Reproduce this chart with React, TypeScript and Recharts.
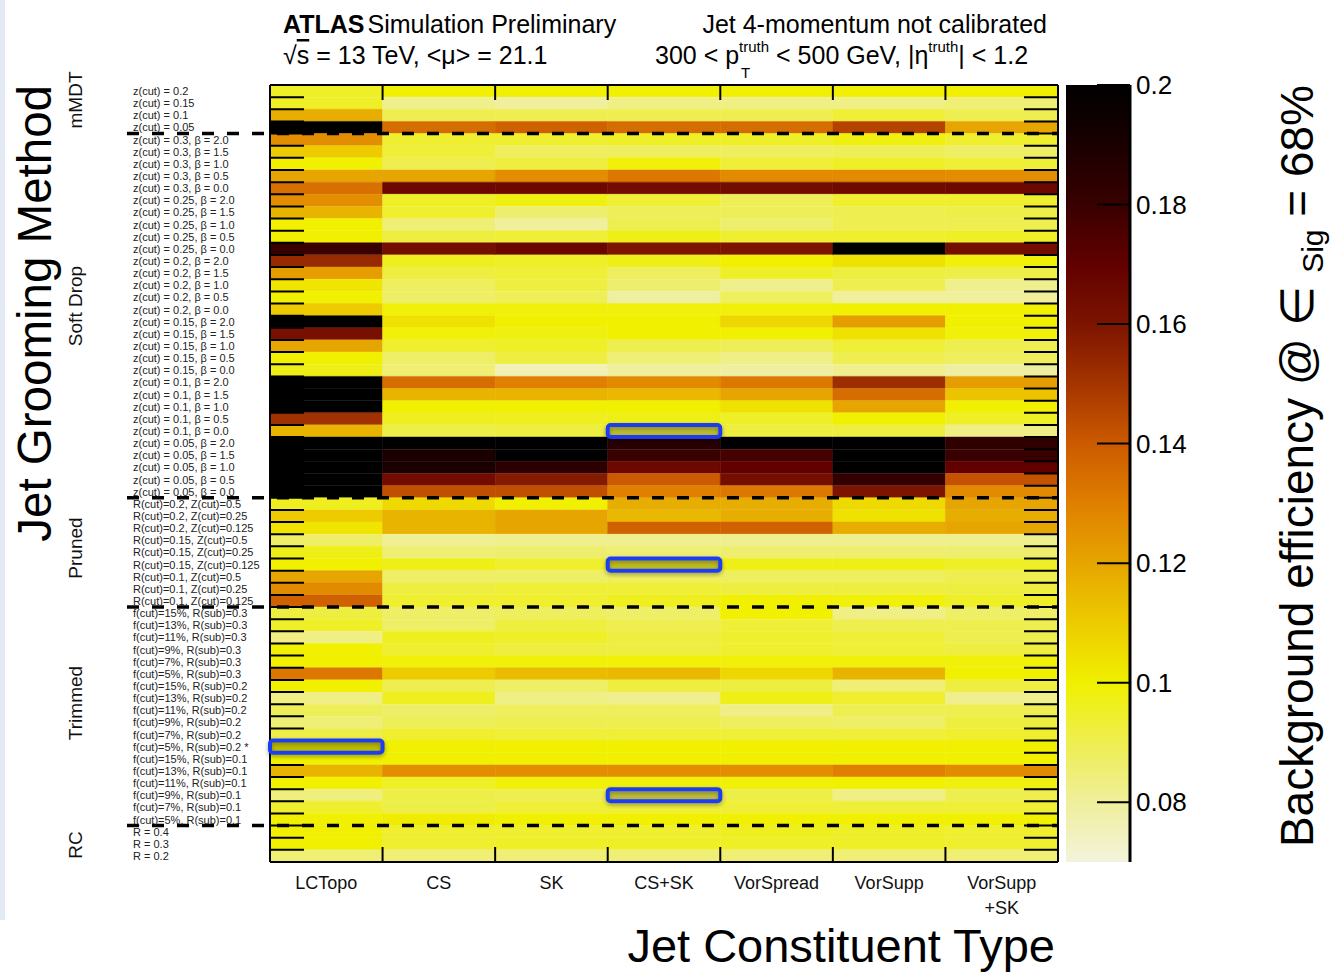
import React from 'react';
import { BarChart, Bar, Cell, XAxis, YAxis, ReferenceLine } from 'recharts';

const FONT = '"Liberation Sans", Arial, Helvetica, sans-serif';

// jet constituent types (columns)
const constituents = ['LCTopo', 'CS', 'SK', 'CS+SK', 'VorSpread', 'VorSupp', 'VorSupp\n+SK'];

// grooming configurations (rows, top to bottom)
const groomers = [
  'z(cut) = 0.2', 'z(cut) = 0.15', 'z(cut) = 0.1', 'z(cut) = 0.05',
  'z(cut) = 0.3, β = 2.0', 'z(cut) = 0.3, β = 1.5', 'z(cut) = 0.3, β = 1.0', 'z(cut) = 0.3, β = 0.5', 'z(cut) = 0.3, β = 0.0',
  'z(cut) = 0.25,  β = 2.0', 'z(cut) = 0.25,  β = 1.5', 'z(cut) = 0.25,  β = 1.0', 'z(cut) = 0.25,  β = 0.5', 'z(cut) = 0.25,  β = 0.0',
  'z(cut) = 0.2, β = 2.0', 'z(cut) = 0.2, β = 1.5', 'z(cut) = 0.2, β = 1.0', 'z(cut) = 0.2, β = 0.5', 'z(cut) = 0.2, β = 0.0',
  'z(cut) = 0.15,  β = 2.0', 'z(cut) = 0.15,  β = 1.5', 'z(cut) = 0.15,  β = 1.0', 'z(cut) = 0.15,  β = 0.5', 'z(cut) = 0.15,  β = 0.0',
  'z(cut) = 0.1, β = 2.0', 'z(cut) = 0.1, β = 1.5', 'z(cut) = 0.1, β = 1.0', 'z(cut) = 0.1, β = 0.5', 'z(cut) = 0.1, β = 0.0',
  'z(cut) = 0.05,  β = 2.0', 'z(cut) = 0.05,  β = 1.5', 'z(cut) = 0.05,  β = 1.0', 'z(cut) = 0.05,  β = 0.5', 'z(cut) = 0.05,  β = 0.0',
  'R(cut)=0.2, Z(cut)=0.5', 'R(cut)=0.2, Z(cut)=0.25', 'R(cut)=0.2, Z(cut)=0.125',
  'R(cut)=0.15, Z(cut)=0.5', 'R(cut)=0.15, Z(cut)=0.25', 'R(cut)=0.15, Z(cut)=0.125',
  'R(cut)=0.1, Z(cut)=0.5', 'R(cut)=0.1, Z(cut)=0.25', 'R(cut)=0.1, Z(cut)=0.125',
  'f(cut)=15%, R(sub)=0.3', 'f(cut)=13%, R(sub)=0.3', 'f(cut)=11%, R(sub)=0.3', 'f(cut)=9%, R(sub)=0.3', 'f(cut)=7%, R(sub)=0.3', 'f(cut)=5%, R(sub)=0.3',
  'f(cut)=15%, R(sub)=0.2', 'f(cut)=13%, R(sub)=0.2', 'f(cut)=11%, R(sub)=0.2', 'f(cut)=9%, R(sub)=0.2', 'f(cut)=7%, R(sub)=0.2', 'f(cut)=5%, R(sub)=0.2 *',
  'f(cut)=15%, R(sub)=0.1', 'f(cut)=13%, R(sub)=0.1', 'f(cut)=11%, R(sub)=0.1', 'f(cut)=9%, R(sub)=0.1', 'f(cut)=7%, R(sub)=0.1', 'f(cut)=5%, R(sub)=0.1',
  'R = 0.4', 'R = 0.3', 'R = 0.2',
];

const groupNames = ['mMDT', 'Soft Drop', 'Pruned', 'Trimmed', 'RC'];
const groupSizes = [4, 30, 9, 18, 3];

// background efficiency @ 68% signal efficiency, one value per groomer row
const lcTopo = [
  0.095, 0.095, 0.118, 0.205,
  0.126, 0.110, 0.100, 0.120, 0.134,
  0.126, 0.116, 0.100, 0.100, 0.180,
  0.153, 0.122, 0.103, 0.100, 0.110,
  0.205, 0.162, 0.120, 0.100, 0.097,
  0.205, 0.205, 0.205, 0.151, 0.116,
  0.205, 0.205, 0.205, 0.205, 0.205,
  0.096, 0.110, 0.103, 0.087, 0.097, 0.100, 0.120, 0.127, 0.138,
  0.092, 0.095, 0.083, 0.100, 0.100, 0.132,
  0.100, 0.083, 0.089, 0.085, 0.091, 0.100,
  0.100, 0.116, 0.100, 0.084, 0.094, 0.100,
  0.100, 0.100, 0.085,
];
const cs = [
  0.100, 0.082, 0.090, 0.135,
  0.094, 0.093, 0.090, 0.120, 0.166,
  0.095, 0.094, 0.085, 0.092, 0.163,
  0.096, 0.092, 0.088, 0.087, 0.099,
  0.104, 0.099, 0.094, 0.087, 0.085,
  0.135, 0.116, 0.100, 0.096, 0.091,
  0.200, 0.190, 0.190, 0.164, 0.143,
  0.106, 0.116, 0.116, 0.081, 0.085, 0.097, 0.087, 0.092, 0.094,
  0.087, 0.087, 0.096, 0.094, 0.099, 0.110,
  0.090, 0.096, 0.087, 0.089, 0.094, 0.100,
  0.100, 0.126, 0.095, 0.091, 0.091, 0.101,
  0.094, 0.094, 0.085,
];
const sk = [
  0.100, 0.080, 0.090, 0.138,
  0.094, 0.088, 0.092, 0.126, 0.166,
  0.098, 0.086, 0.080, 0.093, 0.167,
  0.095, 0.093, 0.092, 0.089, 0.099,
  0.100, 0.098, 0.095, 0.092, 0.076,
  0.130, 0.116, 0.100, 0.096, 0.092,
  0.200, 0.200, 0.184, 0.158, 0.143,
  0.100, 0.120, 0.120, 0.082, 0.086, 0.094, 0.087, 0.093, 0.094,
  0.088, 0.092, 0.095, 0.092, 0.099, 0.114,
  0.087, 0.083, 0.088, 0.090, 0.093, 0.100,
  0.100, 0.126, 0.099, 0.090, 0.093, 0.100,
  0.094, 0.095, 0.085,
];
const csSk = [
  0.100, 0.083, 0.090, 0.135,
  0.095, 0.088, 0.099, 0.132, 0.164,
  0.093, 0.089, 0.090, 0.097, 0.160,
  0.097, 0.088, 0.086, 0.079, 0.099,
  0.100, 0.100, 0.090, 0.085, 0.080,
  0.127, 0.115, 0.100, 0.097, 0.092,
  0.185, 0.180, 0.166, 0.140, 0.130,
  0.118, 0.115, 0.138, 0.082, 0.085, 0.095, 0.088, 0.093, 0.096,
  0.087, 0.090, 0.092, 0.092, 0.099, 0.115,
  0.092, 0.082, 0.088, 0.090, 0.093, 0.100,
  0.100, 0.126, 0.099, 0.090, 0.093, 0.100,
  0.094, 0.095, 0.085,
];
const vorSpread = [
  0.100, 0.083, 0.090, 0.135,
  0.095, 0.088, 0.093, 0.127, 0.164,
  0.089, 0.089, 0.086, 0.094, 0.160,
  0.100, 0.095, 0.082, 0.088, 0.099,
  0.107, 0.100, 0.089, 0.083, 0.079,
  0.132, 0.120, 0.104, 0.095, 0.092,
  0.200, 0.177, 0.170, 0.163, 0.132,
  0.118, 0.118, 0.138, 0.082, 0.086, 0.097, 0.088, 0.092, 0.100,
  0.100, 0.093, 0.094, 0.094, 0.099, 0.107,
  0.092, 0.097, 0.083, 0.088, 0.093, 0.100,
  0.100, 0.126, 0.099, 0.091, 0.093, 0.100,
  0.096, 0.095, 0.085,
];
const vorSupp = [
  0.100, 0.083, 0.093, 0.146,
  0.098, 0.089, 0.095, 0.127, 0.165,
  0.094, 0.090, 0.090, 0.094, 0.205,
  0.104, 0.092, 0.090, 0.080, 0.100,
  0.122, 0.104, 0.093, 0.090, 0.082,
  0.152, 0.135, 0.120, 0.100, 0.092,
  0.205, 0.205, 0.205, 0.182, 0.160,
  0.106, 0.104, 0.118, 0.082, 0.086, 0.097, 0.088, 0.092, 0.099,
  0.083, 0.090, 0.093, 0.093, 0.099, 0.116,
  0.085, 0.094, 0.090, 0.087, 0.093, 0.100,
  0.100, 0.130, 0.100, 0.083, 0.093, 0.100,
  0.095, 0.095, 0.085,
];
const vorSuppSk = [
  0.100, 0.085, 0.090, 0.120,
  0.094, 0.087, 0.093, 0.126, 0.166,
  0.094, 0.091, 0.090, 0.095, 0.163,
  0.099, 0.091, 0.082, 0.080, 0.100,
  0.100, 0.099, 0.090, 0.088, 0.079,
  0.122, 0.112, 0.100, 0.095, 0.083,
  0.183, 0.180, 0.170, 0.142, 0.127,
  0.120, 0.118, 0.120, 0.082, 0.086, 0.095, 0.090, 0.092, 0.095,
  0.087, 0.090, 0.090, 0.092, 0.099, 0.100,
  0.092, 0.082, 0.090, 0.092, 0.094, 0.100,
  0.100, 0.127, 0.098, 0.090, 0.093, 0.100,
  0.094, 0.094, 0.085,
];
const effByType = [lcTopo, cs, sk, csSk, vorSpread, vorSupp, vorSuppSk];

// cells outlined in blue
const highlighted = [
  ['CS+SK', 'z(cut) = 0.1, β = 0.0'],
  ['CS+SK', 'R(cut)=0.15, Z(cut)=0.125'],
  ['LCTopo', 'f(cut)=5%, R(sub)=0.2 *'],
  ['CS+SK', 'f(cut)=9%, R(sub)=0.1'],
];

const zMin = 0.07;
const zMax = 0.2;
const zTicks = [0.08, 0.1, 0.12, 0.14, 0.16, 0.18, 0.2];

const palette: [number, string][] = [
  [0.07, '#f3f3dc'], [0.08, '#efef9c'], [0.09, '#eeee50'], [0.1, '#f0f000'],
  [0.11, '#edcb00'], [0.12, '#e6a500'], [0.13, '#e07f00'], [0.14, '#cc5a00'],
  [0.15, '#a43400'], [0.16, '#7c1400'], [0.17, '#620000'], [0.18, '#380000'],
  [0.19, '#1a0000'], [0.2, '#000000'],
];

const hex = (h: string) => [1, 3, 5].map((k) => parseInt(h.slice(k, k + 2), 16));
function colorOf(v: number) {
  const z = Math.max(zMin, Math.min(zMax, v));
  for (let i = 0; i < palette.length - 1; i++) {
    const [a, ca] = palette[i];
    const [b, cb] = palette[i + 1];
    if (z <= b) {
      const t = (z - a) / (b - a);
      const A = hex(ca), B = hex(cb);
      const c = A.map((x, k) => Math.round(x + (B[k] - x) * t));
      return `rgb(${c[0]},${c[1]},${c[2]})`;
    }
  }
  return '#000';
}

const rows = groomers.map((label, i) => {
  const d: Record<string, any> = { label };
  effByType.forEach((arr, j) => {
    d['c' + j] = 1;
    d['v' + j] = arr[i];
  });
  return d;
});

const colCenters = constituents.map((_, i) => i + 0.5);
const groupStarts = groupSizes.slice(1).map((_, i) => groupSizes.slice(0, i + 1).reduce((s, n) => s + n, 0));

const PLOT_TOP = 85;
const PLOT_BOTTOM = 862;
const ROW_H = (PLOT_BOTTOM - PLOT_TOP) / groomers.length;
const LABEL_X = 133;
const groupLabelY = [100, 306, 548, 703, 845];

const RowTick = (props: any) => (
  <text x={LABEL_X} y={props.y} dy={4} fontSize={11} fontFamily={FONT} fill="#222">
    {props.payload.value}
  </text>
);

const ColTick = (props: any) => {
  const { x, payload } = props;
  const lines = constituents[Math.floor(payload.value)].split('\n');
  return (
    <text x={x} y={PLOT_BOTTOM + 27} textAnchor="middle" fontSize={18} fontFamily={FONT} fill="#111">
      {lines.map((l, k) => (
        <tspan key={k} x={x} dy={k ? 25 : 0}>{l}</tspan>
      ))}
    </text>
  );
};

// short ticks at a row boundary, on both sides of the frame
const RowEdgeTicks = (p: any) => {
  const l = Math.min(p.x1, p.x2), r = Math.max(p.x1, p.x2);
  return (
    <g stroke="#000" strokeWidth={2}>
      <line x1={l} y1={p.y1} x2={l + 34} y2={p.y1} />
      <line x1={r - 34} y1={p.y1} x2={r} y2={p.y1} />
    </g>
  );
};

// short ticks at a column boundary, top and bottom
const ColEdgeTicks = (p: any) => {
  const t = Math.min(p.y1, p.y2), b = Math.max(p.y1, p.y2);
  return (
    <g stroke="#000" strokeWidth={2}>
      <line x1={p.x1} y1={t} x2={p.x1} y2={t + 15} />
      <line x1={p.x1} y1={b - 15} x2={p.x1} y2={b} />
    </g>
  );
};

// dashed separator above a group's first row, reaching into the label area
const GroupSeparator = (p: any) => (
  <line x1={LABEL_X - 6} y1={p.y1} x2={Math.max(p.x1, p.x2)} y2={p.y1}
    stroke="#000" strokeWidth={3.5} strokeDasharray="12 13" />
);

// blue box around one cell (top edge given by the segment)
const HighlightBox = (p: any) => {
  const l = Math.min(p.x1, p.x2), r = Math.max(p.x1, p.x2);
  return (
    <rect x={l} y={p.y1} width={r - l} height={ROW_H} rx={3} ry={3}
      fill="rgba(0,0,0,0.16)" stroke="#1f3df2" strokeWidth={4} filter="url(#hlShadow)" />
  );
};

const ColorbarTick = (props: any) => {
  const { x, y, payload } = props;
  return (
    <g>
      <line x1={x - 6 - 33} y1={y} x2={x - 6} y2={y} stroke="#000" strokeWidth={2} />
      <text x={x} y={y} dy={9} fontSize={26} fontFamily={FONT} fill="#000">{String(payload.value)}</text>
    </g>
  );
};

const frame = { stroke: '#000', strokeWidth: 2 };

export default function App() {
  const first = groomers[0];
  const last = groomers[groomers.length - 1];
  return (
    <div style={{ position: 'absolute', left: 0, top: 0, width: 1331, height: 977, background: '#fff', fontFamily: FONT }}>
      <div style={{ position: 'absolute', left: 0, top: 0, width: 5, height: 920, background: '#e2e9f3' }} />
      <div style={{ position: 'absolute', left: 0, top: 0 }}>
        <BarChart
          layout="vertical"
          width={1331}
          height={977}
          data={rows}
          margin={{ top: PLOT_TOP, right: 273, bottom: 75, left: 0 }}
          barCategoryGap={0}
          barGap={0}
        >
          <defs>
            <filter id="hlShadow" x="-20%" y="-60%" width="140%" height="220%">
              <feDropShadow dx={0} dy={2} stdDeviation={2} floodColor="#000" floodOpacity={0.35} />
            </filter>
          </defs>
          <XAxis
            xAxisId="cells"
            type="number"
            domain={[0, 7]}
            ticks={colCenters}
            interval={0}
            height={40}
            tickLine={false}
            axisLine={false}
            tick={<ColTick />}
          />
          <YAxis yAxisId="rows" type="category" dataKey="label" width={270} interval={0}
            tickLine={false} axisLine={false} tick={<RowTick />} />

          {effByType.map((arr, j) => (
            <Bar key={j} dataKey={'c' + j} stackId="cells" xAxisId="cells" yAxisId="rows" isAnimationActive={false}>
              {arr.map((v, i) => (
                <Cell key={i} fill={colorOf(v)} stroke={colorOf(v)} strokeWidth={0.5} />
              ))}
            </Bar>
          ))}

          {groomers.slice(1).map((g) => (
            <ReferenceLine key={'rt' + g} xAxisId="cells" yAxisId="rows" y={g} position="start" shape={RowEdgeTicks} />
          ))}
          {constituents.slice(1).map((c, j) => (
            <ReferenceLine key={'ct' + c} xAxisId="cells" yAxisId="rows" x={j + 1} shape={ColEdgeTicks} />
          ))}
          <ReferenceLine xAxisId="cells" yAxisId="rows" x={0} {...frame} />
          <ReferenceLine xAxisId="cells" yAxisId="rows" x={7} {...frame} />
          <ReferenceLine xAxisId="cells" yAxisId="rows" y={first} position="start" {...frame} />
          <ReferenceLine xAxisId="cells" yAxisId="rows" y={last} position="end" {...frame} />
          {groupStarts.map((r) => (
            <ReferenceLine key={'gs' + r} xAxisId="cells" yAxisId="rows" y={groomers[r]} position="start" shape={GroupSeparator} />
          ))}

          {highlighted.map(([type, groomer]) => {
            const c = constituents.findIndex((n) => n.replace('\n', '') === type);
            return (
              <ReferenceLine
                key={type + groomer}
                xAxisId="cells"
                yAxisId="rows"
                segment={[{ x: c, y: groomer }, { x: c + 1, y: groomer }]}
                position="start"
                shape={HighlightBox}
              />
            );
          })}
        </BarChart>
      </div>

      <div style={{ position: 'absolute', left: 1066, top: 0 }}>
        <BarChart
          width={265}
          height={977}
          data={[{ k: 'z', range: [zMin, zMax] }]}
          margin={{ top: PLOT_TOP, right: 121, bottom: 977 - PLOT_BOTTOM, left: 0 }}
          barCategoryGap={0}
        >
          <defs>
            <linearGradient id="cbar" x1="0" y1="0" x2="0" y2="1">
              {palette.slice().reverse().map(([v, c]) => (
                <stop key={v} offset={(zMax - v) / (zMax - zMin)} stopColor={c} />
              ))}
            </linearGradient>
          </defs>
          <XAxis dataKey="k" type="category" hide />
          <YAxis yAxisId="lab" orientation="right" type="number" domain={[zMin, zMax]} allowDataOverflow
            ticks={zTicks} interval={0} width={80} tickSize={0} tickMargin={6} tickLine={false}
            axisLine={{ stroke: '#000', strokeWidth: 3 }} tick={<ColorbarTick />} />
          <Bar dataKey="range" yAxisId="lab" fill="url(#cbar)" isAnimationActive={false} />
        </BarChart>
      </div>

      <svg width={1331} height={977} style={{ position: 'absolute', left: 0, top: 0, pointerEvents: 'none', whiteSpace: 'pre' }} fontFamily={FONT}>
        <text x={283} y={33} fontSize={25} fill="#000">
          <tspan fontWeight="bold">ATLAS</tspan>
          <tspan dx={3}>Simulation Preliminary</tspan>
        </text>
        <text x={283} y={64} fontSize={25} fill="#000">
          √<tspan style={{ textDecoration: 'overline' }}>s</tspan> = 13 TeV, &lt;μ&gt; = 21.1
        </text>
        <text x={1047} y={33} fontSize={25} textAnchor="end" fill="#000">Jet 4-momentum not calibrated</text>
        <text x={655} y={64} fontSize={25} fill="#000">
          {'300 < p'}
          <tspan fontSize={15} dy={-12}>truth</tspan>
          <tspan dy={12}>{' <  500 GeV, |η'}</tspan>
          <tspan fontSize={15} dy={-12}>truth</tspan>
          <tspan dy={12}>{'| < 1.2'}</tspan>
        </text>
        <text x={741} y={78} fontSize={15} fill="#000">T</text>

        <text transform="translate(51,85) rotate(-90)" textAnchor="end" fontSize={47.5} fill="#000">Jet Grooming Method</text>
        {groupNames.map((g, i) => (
          <text key={g} transform={`translate(82,${groupLabelY[i]}) rotate(-90)`} textAnchor="middle" fontSize={19} fill="#111">{g}</text>
        ))}
        <text x={1055} y={962} textAnchor="end" fontSize={47} fill="#000">Jet Constituent Type</text>
        <text transform="translate(1313,85) rotate(-90)" textAnchor="end" fontSize={46} fill="#000">
          {'Background efficiency @ ∈ '}<tspan fontSize={30} dy={10}>Sig</tspan>
          <tspan dy={-10}>{' = 68%'}</tspan>
        </text>
      </svg>
    </div>
  );
}
